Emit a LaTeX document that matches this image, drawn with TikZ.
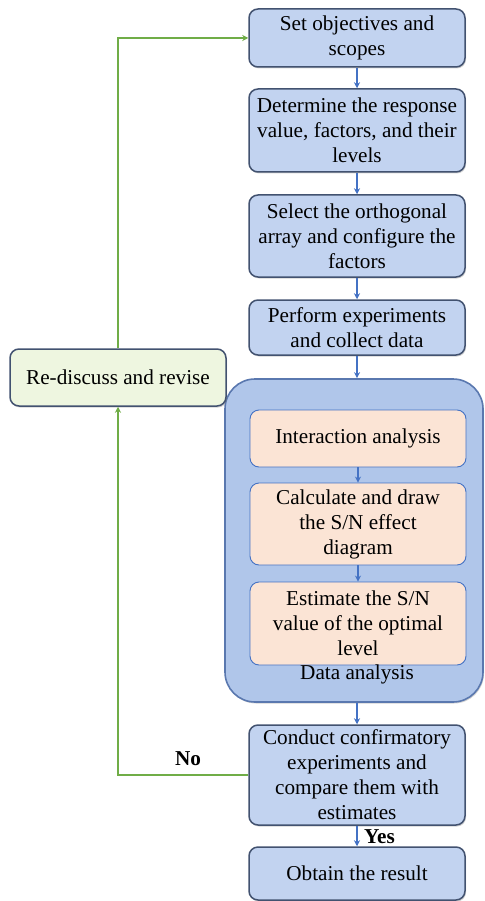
\documentclass[tikz,border=0pt]{standalone}
\usepackage{fontspec}
\setmainfont{Liberation Serif}
\usetikzlibrary{arrows.meta,shadows}
\definecolor{bluefill}{RGB}{194,211,240}
\definecolor{boxline}{RGB}{66,82,112}
\definecolor{bigfill}{RGB}{176,198,234}
\definecolor{bigline}{RGB}{90,120,175}
\definecolor{peach}{RGB}{251,228,213}
\definecolor{innerline}{RGB}{68,114,196}
\definecolor{greenfill}{RGB}{238,246,224}
\definecolor{arrblue}{RGB}{68,114,196}
\definecolor{arrgreen}{RGB}{112,173,71}
\tikzset{
  txt/.style={font=\fontsize{21.2}{25}\selectfont, align=center, inner sep=0pt},
  mainbox/.style={txt, draw=boxline, line width=1.5pt, fill=bluefill, rounded corners=9pt,
    minimum width=216pt, drop shadow={opacity=0.35, shadow xshift=1pt, shadow yshift=-1.5pt}},
  innerbox/.style={txt, draw=innerline, line width=0.9pt, fill=peach, rounded corners=9pt,
    minimum width=216pt},
  greenbox/.style={txt, draw=boxline, line width=1.5pt, fill=greenfill, rounded corners=9pt,
    minimum width=216pt, drop shadow={opacity=0.35, shadow xshift=1pt, shadow yshift=-1.5pt}},
  bigbox/.style={draw=bigline, line width=1.6pt, fill=bigfill, rounded corners=30pt,
    minimum width=258pt, drop shadow={opacity=0.35, shadow xshift=1pt, shadow yshift=-1.5pt}},
  barrow/.style={draw=arrblue, line width=1.5pt, -{Stealth[length=6pt,width=6pt]}},
  garrow/.style={draw=arrgreen, line width=1.8pt, -{Stealth[length=6pt,width=6pt]}},
  lbl/.style={font=\fontsize{21.2}{25}\selectfont\bfseries, inner sep=0pt}
}
\begin{document}
\begin{tikzpicture}[x=1pt,y=-1pt]
\useasboundingbox (0,0) rectangle (484,901);
\node[mainbox, minimum height=58pt] (b1) at (357,38) {Set objectives and\\scopes};
\node[mainbox, minimum height=83pt] (b2) at (357,130.5) {Determine the response\\value, factors, and their\\levels};
\node[mainbox, minimum height=82pt] (b3) at (357,236) {Select the orthogonal\\array and configure the\\factors};
\node[mainbox, minimum height=55pt] (b4) at (357,327.5) {Perform experiments\\and collect data};
\node[bigbox, minimum height=323pt] (big) at (354,540.5) {};
\node[innerbox, minimum height=57pt] (i1) at (358,438.5) {Interaction analysis};
\node[innerbox, minimum height=82pt] (i2) at (358,524) {Calculate and draw\\the S/N effect\\diagram};
\node[innerbox, minimum height=83pt] (i3) at (358,623.5) {Estimate the S/N\\value of the optimal\\level};
\node[txt] (da) at (357,674) {Data analysis};
\node[mainbox, minimum height=100pt] (b5) at (357,775) {Conduct confirmatory\\experiments and\\compare them with\\estimates};
\node[mainbox, minimum height=53pt] (b6) at (357,873.5) {Obtain the result};
\node[greenbox, minimum height=57pt] (rd) at (118,377.5) {Re-discuss and revise};

\draw[barrow] (b1) -- (b2);
\draw[barrow] (b2) -- (b3);
\draw[barrow] (b3) -- (b4);
\draw[barrow] (b4.south) -- (b4.south |- big.north);
\draw[barrow] (i1) -- (i2);
\draw[barrow] (i2) -- (i3);
\draw[barrow] (b5.north |- big.south) -- (b5.north);
\draw[barrow] (b5) -- (b6);
\draw[garrow] (b5.west) -| (rd.south);
\draw[garrow] (rd.north) |- (b1.west);
\node[lbl] (no) at (188,759) {No};
\node[lbl, anchor=west] (yes) at (364,837) {Yes};
\end{tikzpicture}
\end{document}
